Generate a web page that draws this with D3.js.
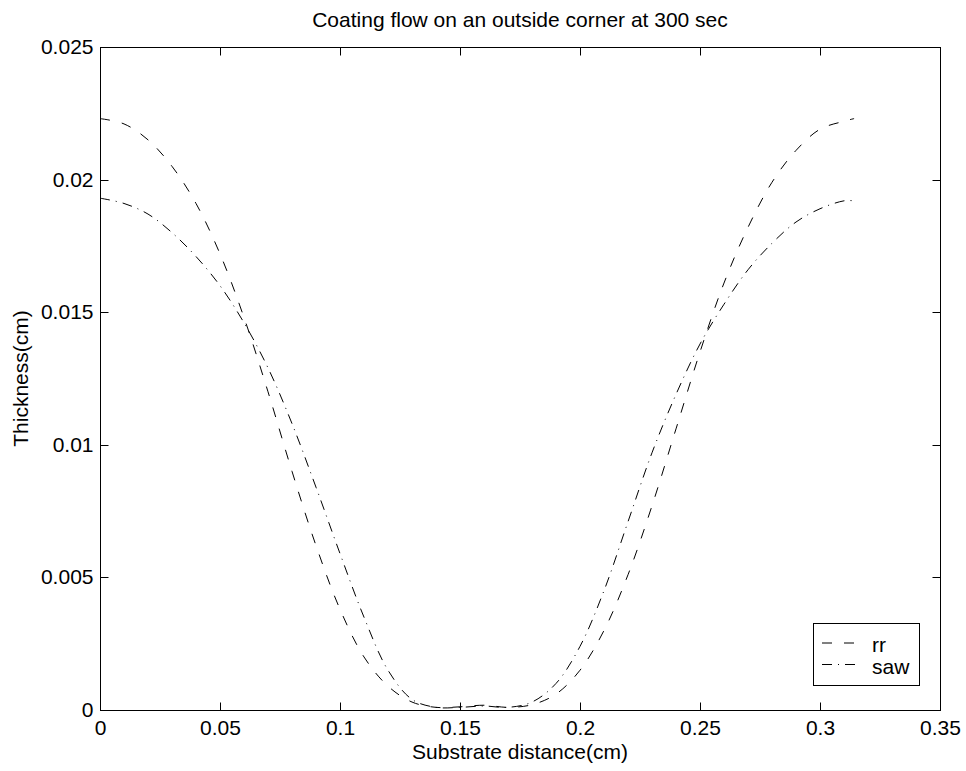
<!DOCTYPE html>
<html>
<head>
<meta charset="utf-8">
<script src="https://cdn.jsdelivr.net/npm/d3@7"></script>
<style>
  html, body { margin: 0; padding: 0; background: #fff; }
  svg { display: block; }
  text { font-family: "Liberation Sans", Arial, Helvetica, sans-serif; fill: #000; }
</style>
</head>
<body>
<svg id="chart" width="966" height="771"></svg>
<script>
// ---- data ----
const titleText = "Coating flow on an outside corner at 300 sec";
const xLabel = "Substrate distance(cm)";
const yLabel = "Thickness(cm)";
const xTicks = [0, 0.05, 0.1, 0.15, 0.2, 0.25, 0.3, 0.35];
const yTicks = [0, 0.005, 0.01, 0.015, 0.02, 0.025];
const xValues = [0, 0.01, 0.02, 0.03, 0.04, 0.05, 0.06, 0.07, 0.08, 0.09, 0.10, 0.11, 0.12, 0.13,
  0.14, 0.15, 0.16, 0.17, 0.18, 0.19, 0.20, 0.21, 0.22, 0.23, 0.24, 0.25, 0.26, 0.27, 0.28, 0.29,
  0.30, 0.31, 0.3142];
const rrValues = [0.0223, 0.0221, 0.0215, 0.0205, 0.0191, 0.0172, 0.0148, 0.0120, 0.0090, 0.0062,
  0.0038, 0.0020, 0.0009, 0.0003, 0.0001, 0.00012, 0.00018, 0.0001, 0.0002, 0.0006, 0.0015, 0.0030,
  0.0051, 0.0077, 0.0106, 0.0135, 0.0161, 0.0182, 0.0199, 0.0211, 0.0219, 0.0222, 0.0223];
const sawValues = [0.0193, 0.0191, 0.0187, 0.0180, 0.0171, 0.0160, 0.0146, 0.0129, 0.0108, 0.0084,
  0.0059, 0.0035, 0.0015, 0.0004, 0.0001, 0.0001, 0.00015, 0.0001, 0.0003, 0.0010, 0.0024, 0.0045,
  0.0071, 0.0097, 0.0119, 0.0138, 0.0153, 0.0166, 0.0176, 0.0184, 0.0189, 0.0192, 0.0192];
const seriesNames = ["rr", "saw"];

// ---- layout ----
const svg = d3.select("#chart");
const L = 100, R = 940, T = 47, B = 710;
const x = d3.scaleLinear().domain([0, 0.35]).range([L, R]);
const y = d3.scaleLinear().domain([0, 0.025]).range([B, T]);
const fs = 21;
const dashes = { rr: "10,12", saw: "10,6,1,6" };

// axes box
svg.append("rect").attr("x", L + 0.5).attr("y", T + 0.5)
  .attr("width", R - L).attr("height", B - T)
  .attr("fill", "none").attr("stroke", "#000").attr("stroke-width", 1);

const fmt = d => (d === 0 ? "0" : String(+d.toFixed(3)));
const tl = 8;
const gx = svg.append("g").attr("transform", `translate(0,${B + 0.5})`)
  .call(d3.axisBottom(x).tickValues(xTicks).tickSize(-tl).tickPadding(9.5).tickFormat(fmt));
const gxt = svg.append("g").attr("transform", `translate(0,${T + 0.5})`)
  .call(d3.axisTop(x).tickValues(xTicks).tickSize(-tl).tickFormat(""));
const gy = svg.append("g").attr("transform", `translate(${L + 0.5},0)`)
  .call(d3.axisLeft(y).tickValues(yTicks).tickSize(-tl).tickPadding(7).tickFormat(fmt));
const gyr = svg.append("g").attr("transform", `translate(${R + 0.5},0)`)
  .call(d3.axisRight(y).tickValues(yTicks).tickSize(-tl).tickFormat(""));
[gx, gxt, gy, gyr].forEach(g => {
  g.select(".domain").remove();
  g.selectAll(".tick line").attr("stroke", "#000").attr("stroke-width", 1);
  g.selectAll("text").attr("font-size", fs).attr("font-family", "Liberation Sans, Arial, sans-serif").attr("fill", "#000");
});
gx.selectAll(".tick").attr("transform", d => `translate(${Math.round(x(d)) + 0.5},0)`);
gxt.selectAll(".tick").attr("transform", d => `translate(${Math.round(x(d)) + 0.5},0)`);
gy.selectAll(".tick").attr("transform", d => `translate(0,${Math.round(y(d)) + 0.5})`);
gyr.selectAll(".tick").attr("transform", d => `translate(0,${Math.round(y(d)) + 0.5})`);

// lines
const line = d3.line().x(d => x(d[0])).y(d => y(d[1])).curve(d3.curveCatmullRom.alpha(0.5));
const seriesData = {
  rr: xValues.map((v, i) => [v, rrValues[i]]),
  saw: xValues.map((v, i) => [v, sawValues[i]])
};
seriesNames.forEach(n => {
  svg.append("path").datum(seriesData[n]).attr("d", line)
    .attr("fill", "none").attr("stroke", "#000").attr("stroke-width", 1)
    .attr("stroke-dasharray", dashes[n]);
});

// title & labels
svg.append("text").attr("x", (L + R) / 2).attr("y", 27).attr("text-anchor", "middle")
  .attr("font-size", fs).text(titleText);
svg.append("text").attr("x", (L + R) / 2).attr("y", 759).attr("text-anchor", "middle")
  .attr("font-size", fs).text(xLabel);
svg.append("text").attr("transform", `translate(28,${(T + B) / 2}) rotate(-90)`)
  .attr("text-anchor", "middle").attr("font-size", fs).text(yLabel);

// legend
const lg = svg.append("g");
lg.append("rect").attr("x", 813.5).attr("y", 623.5).attr("width", 106).attr("height", 62)
  .attr("fill", "#fff").attr("stroke", "#000").attr("stroke-width", 1);
seriesNames.forEach((n, i) => {
  const ly = 643 + i * 21.5;
  lg.append("line").attr("x1", 822).attr("x2", 856).attr("y1", ly).attr("y2", ly)
    .attr("stroke", "#000").attr("stroke-width", 1).attr("stroke-dasharray", dashes[n]);
  lg.append("text").attr("x", 872).attr("y", ly + 9).attr("font-size", fs).text(n);
});
</script>
</body>
</html>
